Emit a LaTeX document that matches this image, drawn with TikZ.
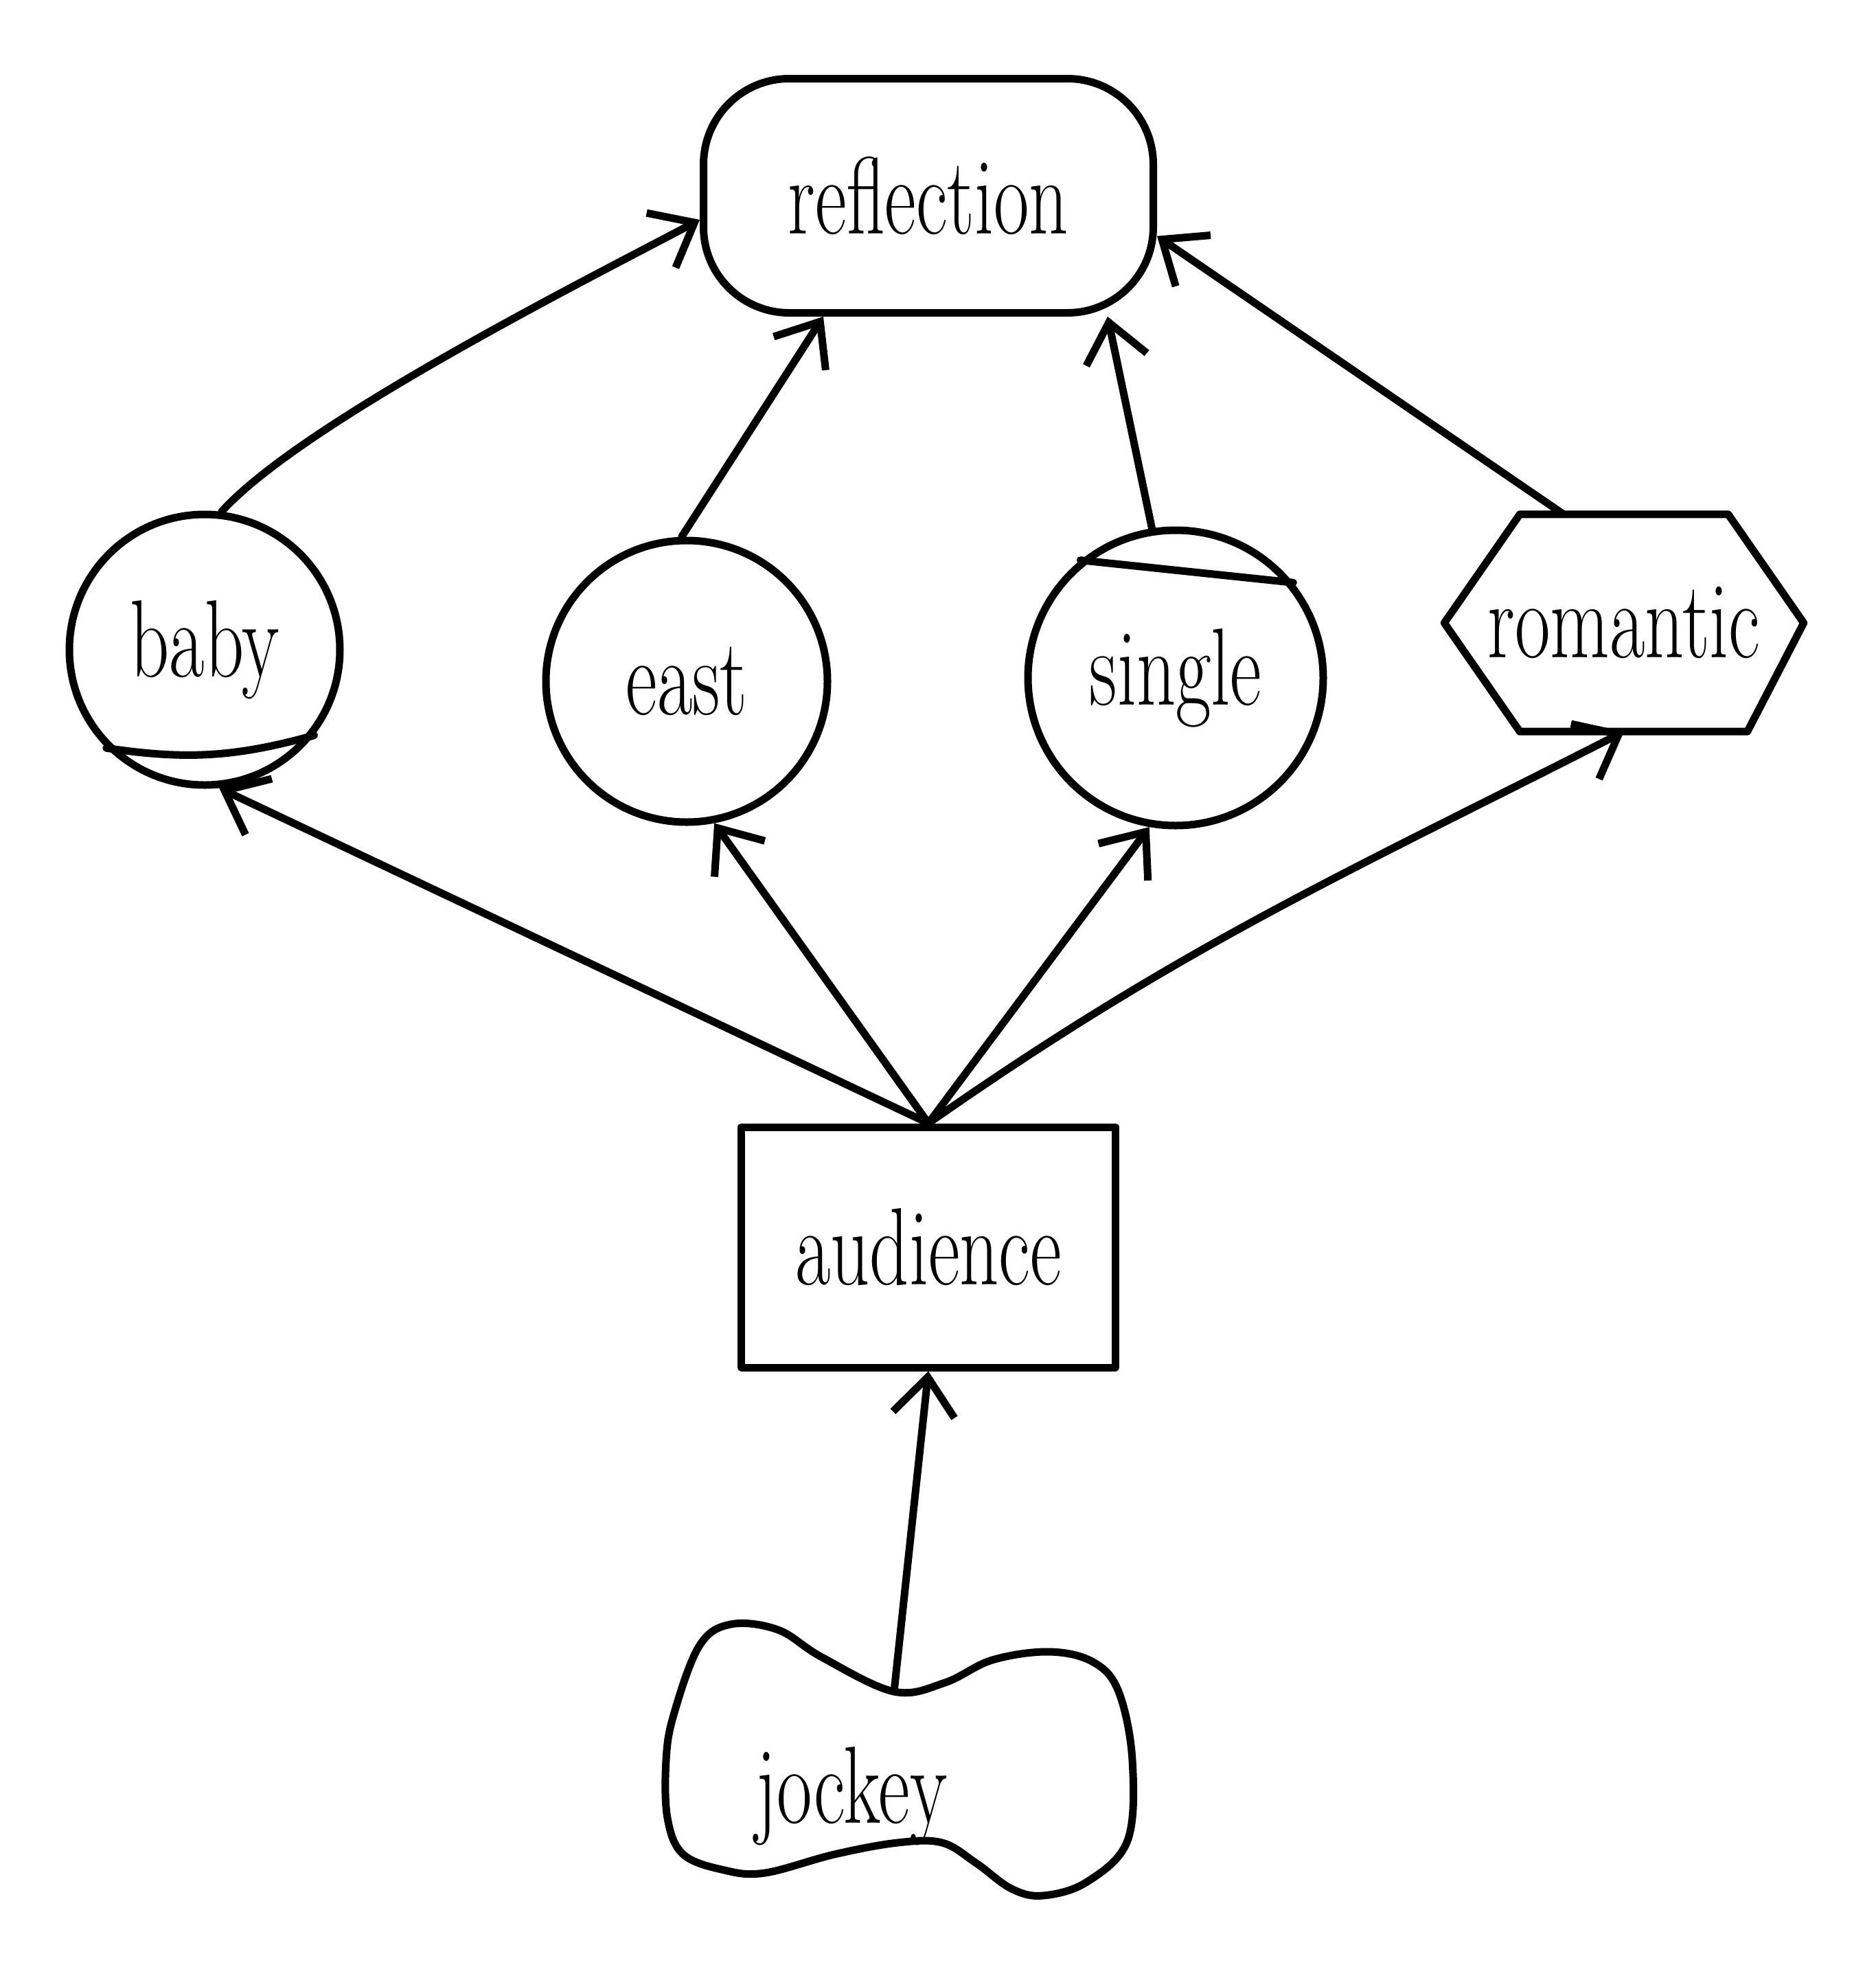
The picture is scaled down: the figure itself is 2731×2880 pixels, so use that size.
\documentclass[tikz,border=0pt]{standalone}
\usepackage{fontspec}
\usepackage{graphicx}
\usetikzlibrary{arrows.meta}
\tikzset{
  ink/.style={line width=11pt, line cap=round, line join=round},
  lbl/.style={font=\fontsize{160}{160}\selectfont},
  conn/.style={ink, -{Straight Barb[length=55pt,width=90pt]}},
}
\newcommand{\hw}[1]{\scalebox{0.7}[1]{#1}}
\begin{document}
\begin{tikzpicture}[x=1pt,y=1pt]
\fill[white] (0,0) rectangle (2731,-2880);
\useasboundingbox (0,0) rectangle (2731,-2880);

% nodes
\node[ink, draw, rounded corners=125pt, minimum width=655pt, minimum height=341pt, inner sep=0pt, lbl] (refl) at (1352,-285) {\hw{reflection}};
\node[ink, draw, circle, minimum size=394pt, inner sep=0pt, lbl] (baby) at (298,-946) {\hw{baby}};
\node[ink, draw, circle, minimum size=410pt, inner sep=0pt, lbl] (east) at (1000,-992) {\hw{east}};
\node[ink, draw, circle, minimum size=430pt, inner sep=0pt, lbl] (single) at (1712,-987) {\hw{single}};
\node[lbl, minimum width=523pt, minimum height=316pt, inner sep=0pt] (rom) at (2365,-907) {\hw{romantic}};
\node[ink, draw, minimum width=545pt, minimum height=350pt, inner sep=0pt, lbl] (aud) at (1352,-1816) {\hw{audience}};
\node[lbl, inner sep=0pt] (jock) at (1240,-2615) {\hw{jockey}};
\coordinate (jdip) at (1302,-2463);

% shape details
\draw[ink] (baby.225) to[bend right=12] (baby.322);
\draw[ink] (single.129) -- (single.39);
\draw[ink] ([xshift=110pt]rom.north west) -- ([xshift=-110pt]rom.north east) -- (rom.east)
  -- ([xshift=-82pt]rom.south east) -- ([xshift=110pt]rom.south west) -- (rom.west) -- cycle;
\draw[ink] plot[smooth cycle, tension=0.6] coordinates {
  (1064,-2365) (1018,-2397) (981,-2497) (970,-2563) (972,-2647) (995,-2700)
  (1055,-2723) (1114,-2727) (1215,-2700) (1307,-2683) (1372,-2683) (1422,-2713)
  (1473,-2750) (1519,-2760) (1583,-2740) (1642,-2680) (1649,-2563) (1629,-2463)
  (1592,-2420) (1528,-2405) (1445,-2417) (1376,-2450) (1302,-2463)
  (1197,-2413) (1133,-2373)};

% connectors
\draw[conn] (baby.83) to[out=48,in=208,looseness=0.55] (refl.186);
\draw[conn] (east.92) -- (refl.229);
\draw[conn] (single.99) -- (refl.326);
\draw[conn] ([xshift=-88pt]rom.north) -- (refl.350);
\draw[conn] (aud.north) -- (baby.276);
\draw[conn] (aud.north) -- (east.281);
\draw[conn] (aud.north) -- (single.260);
\draw[conn] (aud.north) to[out=35,in=207] (rom.south);
\draw[conn] (jdip) -- (aud.south);
\end{tikzpicture}
\end{document}
